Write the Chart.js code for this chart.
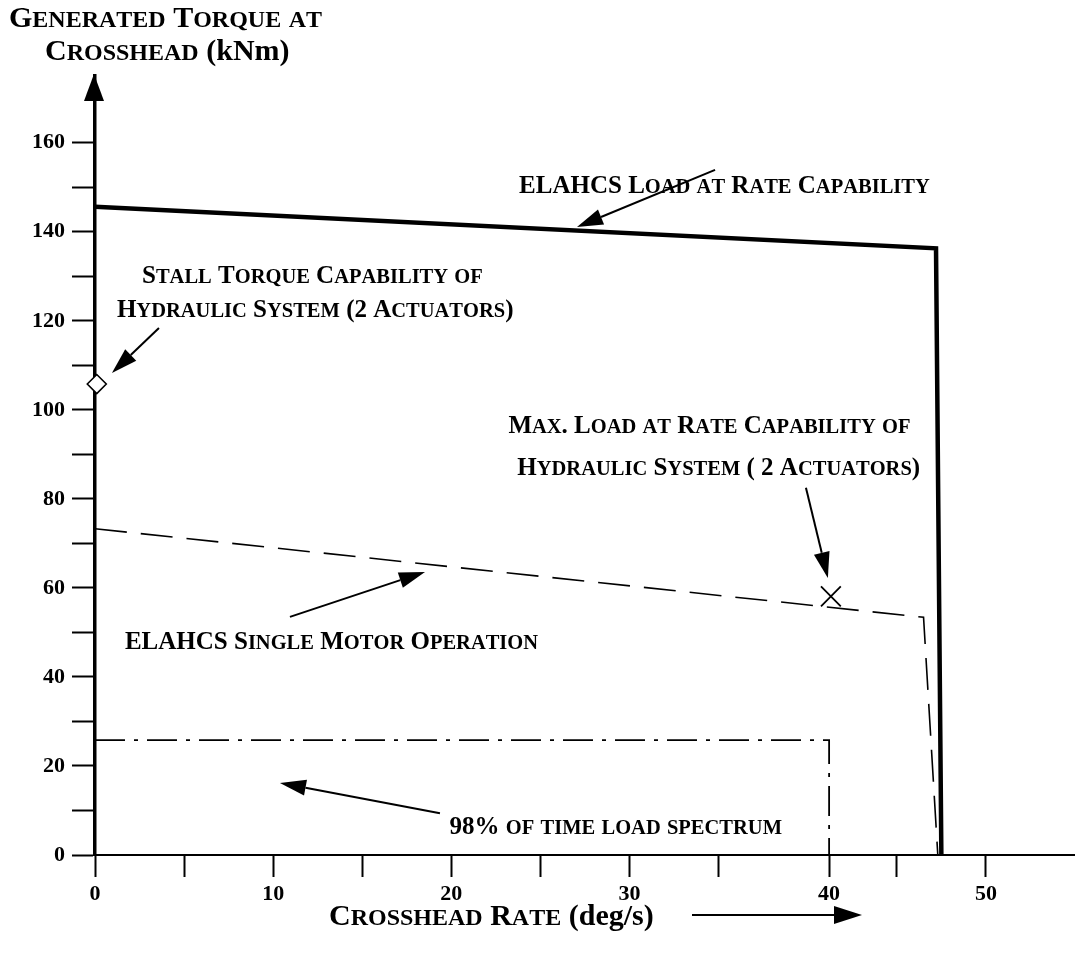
<!DOCTYPE html>
<html>
<head>
<meta charset="utf-8">
<script src="https://cdn.jsdelivr.net/npm/chart.js@4.4.1/dist/chart.umd.min.js"></script>
<style>
html,body{margin:0;padding:0;background:#fff;}
canvas{display:block;}
</style>
</head>
<body>
<canvas id="c" width="1075" height="959"></canvas>
<script>
// ---- data ----
const xTickValues = [0, 5, 10, 15, 20, 25, 30, 35, 41.2, 45, 50];
const xTickLabels = ['0', '', '10', '', '20', '', '30', '', '40', '', '50'];
const yTickValues = [0, 10, 20, 30, 40, 50, 60, 70, 80, 90, 100, 110, 120, 130, 140, 150, 160];
const yTickLabels = ['0', '', '20', '', '40', '', '60', '', '80', '', '100', '', '120', '', '140', '', '160'];

const rateCapX = [0, 47.2, 47.5];
const rateCapY = [145.6, 136.3, 0];
const singleMotorX = [0, 46.5, 47.3];
const singleMotorY = [73.3, 53.4, 0];
const spectrumX = [0, 41.2, 41.2];
const spectrumY = [25.8, 25.8, 0];
const stallX = [0.1];
const stallY = [105.8];
const maxLoadX = [41.3];
const maxLoadY = [58.1];

const xTitle = 'Crosshead Rate';
const xTitleUnit = ' (deg/s)';
const yTitle1 = 'Generated Torque at';
const yTitle2 = 'Crosshead';
const yTitle2Unit = ' (kNm)';

const labelTexts = [
  'ELAHCS Load at Rate Capability',
  'Stall Torque Capability of',
  'Hydraulic System (2 Actuators)',
  'Max. Load at Rate Capability of',
  'Hydraulic System ( 2 Actuators)',
  'ELAHCS Single Motor Operation',
  '98% of time load spectrum'
];
// anchor (left x, centre y) in data units
const labelX = [23.8, 2.64, 1.23, 23.2, 23.7, 1.68, 19.9];
const labelY = [150.6, 130.3, 122.7, 96.6, 87.2, 48.1, 6.5];

// arrows: tail -> tip in data units
const arrowTailX = [34.8, 3.59, 39.9, 10.94, 19.36];
const arrowTailY = [153.9, 118.4, 82.5, 53.5, 9.4];
const arrowTipX  = [27.05, 0.95, 41.13, 18.52, 10.38];
const arrowTipY  = [141.1, 108.3, 62.2, 63.6, 16.2];

// ---- helpers ----
const FONT = '"Liberation Serif", "Times New Roman", serif';
const pts = (xs, ys) => xs.map((x, i) => ({x: x, y: ys[i]}));

function drawSmallCaps(ctx, text, x, yCenter, big, small, tail) {
  ctx.save();
  ctx.fillStyle = '#000';
  ctx.textBaseline = 'alphabetic';
  ctx.textAlign = 'left';
  const base = yCenter + big * 0.33;
  let cx = x;
  for (const ch of text) {
    const isLower = ch >= 'a' && ch <= 'z';
    ctx.font = 'bold ' + (isLower ? small : big) + 'px ' + FONT;
    const c = isLower ? ch.toUpperCase() : ch;
    ctx.fillText(c, cx, base);
    cx += ctx.measureText(c).width;
  }
  if (tail) {
    ctx.font = 'bold ' + big + 'px ' + FONT;
    ctx.fillText(tail, cx, base);
    cx += ctx.measureText(tail).width;
  }
  ctx.restore();
  return cx;
}

function drawArrow(ctx, x1, y1, x2, y2, lw, headLen, headHalf) {
  const ang = Math.atan2(y2 - y1, x2 - x1);
  const bx = x2 - Math.cos(ang) * headLen;
  const by = y2 - Math.sin(ang) * headLen;
  ctx.save();
  ctx.strokeStyle = '#000';
  ctx.fillStyle = '#000';
  ctx.lineWidth = lw;
  ctx.beginPath();
  ctx.moveTo(x1, y1);
  ctx.lineTo(bx, by);
  ctx.stroke();
  ctx.beginPath();
  ctx.moveTo(x2, y2);
  ctx.lineTo(bx + Math.sin(ang) * headHalf, by - Math.cos(ang) * headHalf);
  ctx.lineTo(bx - Math.sin(ang) * headHalf, by + Math.cos(ang) * headHalf);
  ctx.closePath();
  ctx.fill();
  ctx.restore();
}

const annotationPlugin = {
  id: 'annot',
  afterDraw(chart) {
    const ctx = chart.ctx;
    const xs = chart.scales.x, ys = chart.scales.y;
    const area = chart.chartArea;
    // y-axis arrowhead
    ctx.save();
    ctx.fillStyle = '#000';
    ctx.beginPath();
    ctx.moveTo(area.left - 1, 74);
    ctx.lineTo(area.left - 11, 101);
    ctx.lineTo(area.left + 9, 101);
    ctx.closePath();
    ctx.fill();
    ctx.fillRect(area.left - 3, 95, 4, Math.max(0, area.top - 90));
    ctx.restore();
    // axis titles
    drawSmallCaps(ctx, yTitle1, 9, 17, 30, 24);
    drawSmallCaps(ctx, yTitle2, 45, 50, 30, 24, yTitle2Unit);
    drawSmallCaps(ctx, xTitle, 329, 915, 30, 24, xTitleUnit);
    drawArrow(ctx, 692, 915, 862, 915, 2, 28, 9);
    // labels
    labelTexts.forEach((t, i) => {
      drawSmallCaps(ctx, t, xs.getPixelForValue(labelX[i]), ys.getPixelForValue(labelY[i]), 25, 20.5);
    });
    // arrows
    arrowTailX.forEach((v, i) => {
      drawArrow(ctx,
        xs.getPixelForValue(v), ys.getPixelForValue(arrowTailY[i]),
        xs.getPixelForValue(arrowTipX[i]), ys.getPixelForValue(arrowTipY[i]),
        2, 26, 8);
    });
  }
};

new Chart(document.getElementById('c'), {
  type: 'scatter',
  data: {
    datasets: [
      {
        label: 'ELAHCS Load at Rate Capability',
        data: pts(rateCapX, rateCapY),
        showLine: true, borderColor: '#000', borderWidth: 4.5,
        pointRadius: 0, tension: 0, clip: false, borderJoinStyle: 'miter'
      },
      {
        label: 'ELAHCS Single Motor Operation',
        data: pts(singleMotorX, singleMotorY),
        showLine: true, borderColor: '#000', borderWidth: 1.6,
        borderDash: [32, 14], pointRadius: 0, tension: 0, clip: false
      },
      {
        label: '98% of time load spectrum',
        data: pts(spectrumX, spectrumY),
        showLine: true, borderColor: '#000', borderWidth: 1.8,
        borderDash: [30, 9, 4, 9], pointRadius: 0, tension: 0, clip: false
      },
      {
        label: 'Stall torque',
        data: pts(stallX, stallY),
        showLine: false, pointStyle: 'rectRot', pointRadius: 9.5,
        pointBackgroundColor: '#fff', pointBorderColor: '#000', pointBorderWidth: 1.6, clip: false
      },
      {
        label: 'Max load',
        data: pts(maxLoadX, maxLoadY),
        showLine: false, pointStyle: 'crossRot', pointRadius: 14,
        pointBorderColor: '#000', pointBorderWidth: 1.8, clip: false
      }
    ]
  },
  options: {
    responsive: false,
    animation: false,
    devicePixelRatio: 1,
    layout: { autoPadding: false, padding: { left: 0, right: 0, top: 76, bottom: 0 } },
    plugins: { legend: { display: false }, tooltip: { enabled: false }, title: { display: false } },
    scales: {
      x: {
        type: 'linear', min: 0, max: 55,
        afterBuildTicks: s => { s.ticks = xTickValues.map(v => ({ value: v })); },
        afterFit: s => { s.height = 104; s.paddingLeft = 0; s.paddingRight = 0; },
        border: { display: true, color: '#000', width: 2 },
        grid: { drawOnChartArea: false, drawTicks: true, tickLength: 22, tickWidth: 2, tickColor: '#000' },
        ticks: {
          autoSkip: false, maxRotation: 0, padding: 4, color: '#000',
          font: { family: FONT, size: 22, weight: 'bold' },
          callback: (v, i) => xTickLabels[i]
        }
      },
      y: {
        type: 'linear', min: 0, max: 175,
        afterBuildTicks: s => { s.ticks = yTickValues.map(v => ({ value: v })); },
        afterFit: s => { s.width = 95; s.paddingTop = 0; s.paddingBottom = 0; },
        border: { display: true, color: '#000', width: 3.5 },
        grid: { drawOnChartArea: false, drawTicks: true, tickLength: 23, tickWidth: 2, tickColor: '#000' },
        ticks: {
          autoSkip: false, padding: 7, color: '#000',
          font: { family: FONT, size: 22, weight: 'bold' },
          callback: (v, i) => yTickLabels[i]
        }
      }
    }
  },
  plugins: [annotationPlugin]
});
</script>
</body>
</html>
